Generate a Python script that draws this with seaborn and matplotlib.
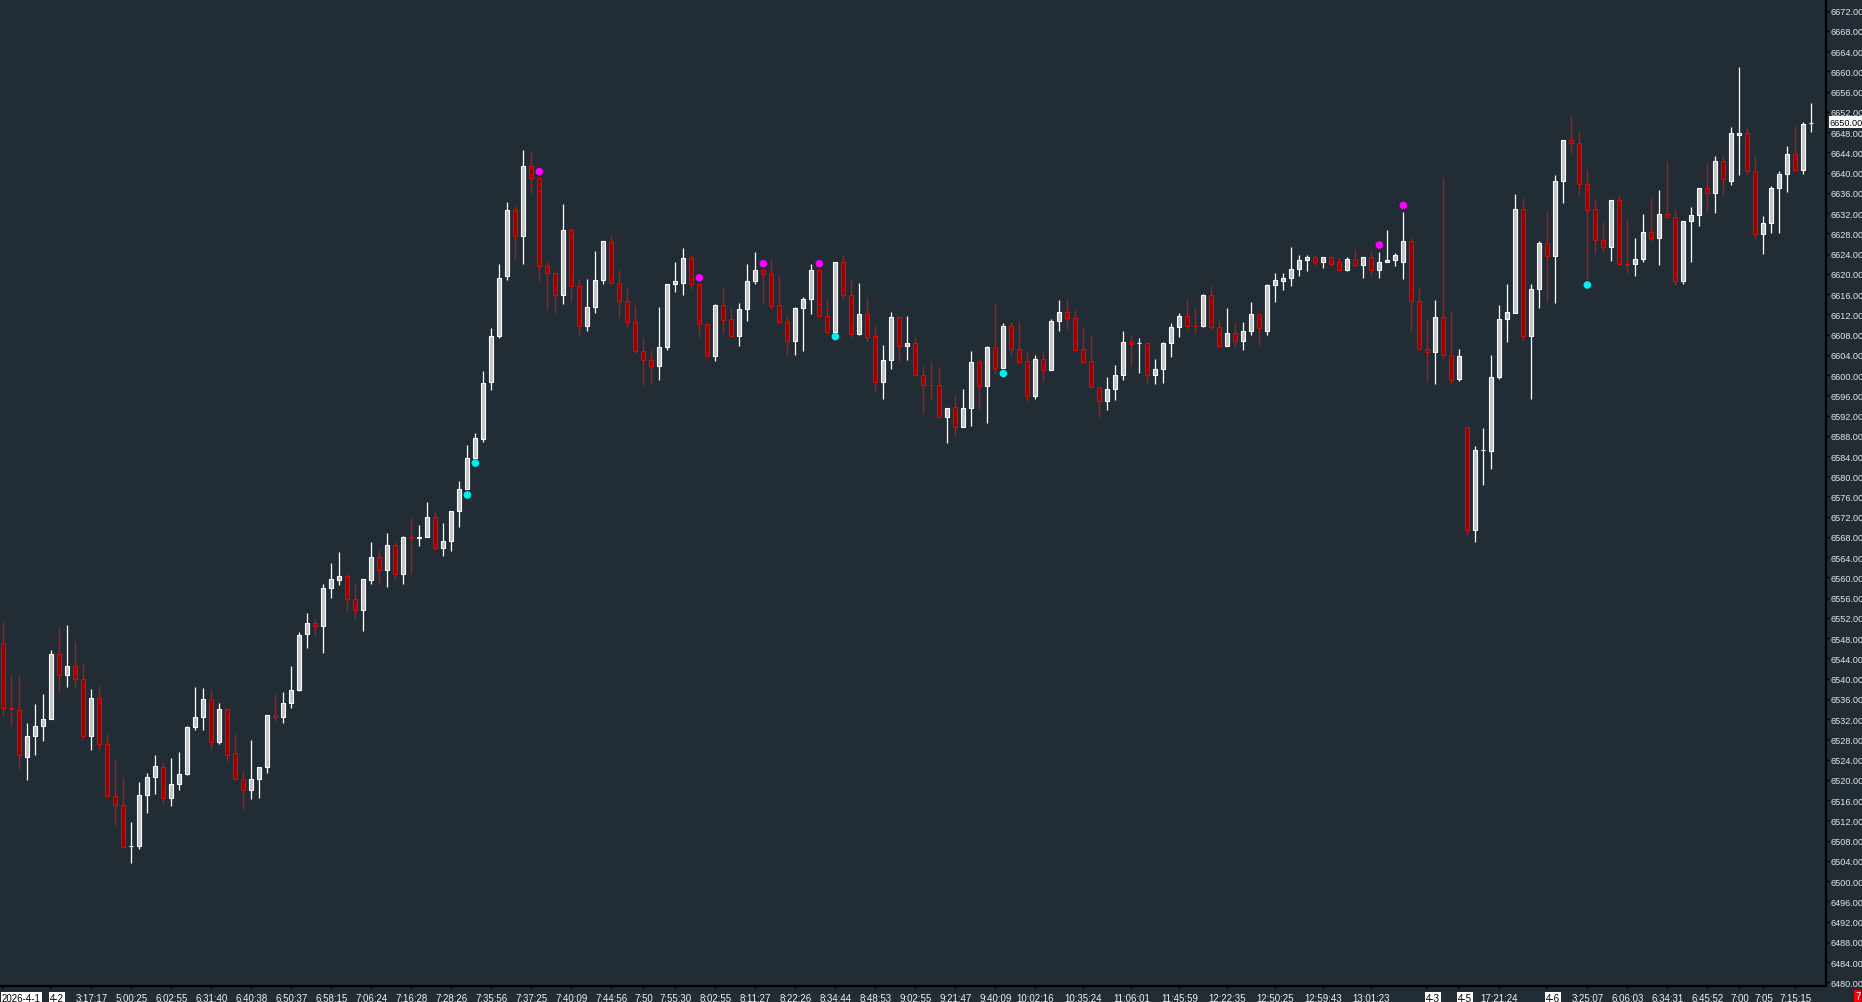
import numpy as np
import pandas as pd
import matplotlib
matplotlib.use("Agg")
import matplotlib.pyplot as plt
import matplotlib.transforms as mtransforms
import seaborn as sns

# OHLC per bar
opens = [6547.1, 6534.3, 6533.9, 6524.6, 6528.6, 6530.7, 6532.1, 6544.8, 6540.8, 6542.6,
         6540.0, 6528.7, 6536.1, 6527.0, 6516.9, 6515.1, 6506.9, 6506.9, 6517.1, 6520.6,
         6522.6, 6516.5, 6519.1, 6521.2, 6530.5, 6532.5, 6535.9, 6527.4, 6534.1, 6525.4,
         6520.2, 6518.1, 6520.2, 6522.6, 6532.9, 6532.5, 6535.2, 6537.8, 6548.8, 6551.1,
         6550.5, 6558.0, 6559.5, 6560.2, 6555.8, 6553.6, 6559.5, 6564.1, 6561.5, 6566.5,
         6560.7, 6567.9, 6567.7, 6567.9, 6571.9, 6565.9, 6567.3, 6573.1, 6577.4, 6583.6,
         6587.4, 6598.7, 6607.8, 6619.5, 6632.7, 6627.4, 6641.4, 6638.9, 6621.5, 6620.1,
         6615.9, 6628.6, 6617.5, 6609.6, 6613.4, 6618.7, 6626.2, 6618.1, 6614.7, 6610.4,
         6604.7, 6602.9, 6601.7, 6605.6, 6617.9, 6618.1, 6623.2, 6617.9, 6610.0, 6603.8,
         6613.8, 6611.0, 6607.8, 6613.0, 6618.5, 6620.7, 6619.9, 6613.8, 6610.4, 6606.8,
         6613.2, 6615.0, 6620.7, 6611.6, 6608.6, 6622.3, 6615.9, 6608.2, 6612.0, 6607.8,
         6598.7, 6602.9, 6611.4, 6605.7, 6606.3, 6600.1, 6598.1, 6598.0, 6591.8, 6593.6,
         6589.8, 6593.4, 6602.5, 6597.9, 6605.5, 6601.3, 6609.6, 6605.1, 6602.7, 6595.9,
         6603.1, 6600.9, 6610.6, 6612.4, 6611.2, 6605.1, 6602.7, 6597.6, 6594.9, 6597.3,
         6600.1, 6606.6, 6606.3, 6606.4, 6600.0, 6601.1, 6606.4, 6609.4, 6611.6, 6609.7,
         6609.7, 6615.9, 6609.4, 6605.8, 6608.4, 6606.8, 6608.8, 6612.0, 6608.8, 6617.7,
         6618.6, 6619.1, 6620.9, 6622.7, 6623.4, 6622.3, 6623.4, 6622.3, 6620.7, 6622.9,
         6621.7, 6623.3, 6620.7, 6622.3, 6622.7, 6622.4, 6626.4, 6614.7, 6605.1, 6604.6,
         6611.4, 6603.9, 6599.3, 6589.8, 6569.3, 6585.1, 6584.9, 6599.7, 6611.0, 6612.3,
         6632.9, 6607.8, 6617.1, 6626.0, 6623.6, 6638.3, 6646.4, 6645.8, 6637.7, 6632.9,
         6626.6, 6625.4, 6634.5, 6621.9, 6621.9, 6622.9, 6628.2, 6627.1, 6631.9, 6631.2,
         6618.5, 6630.4, 6631.7, 6636.9, 6635.9, 6642.2, 6638.4, 6647.4, 6647.8, 6640.4,
         6627.9, 6630.0, 6636.9, 6639.7, 6643.6, 6640.6, 6649.8]
highs = [6551.3, 6540.7, 6540.7, 6531.2, 6534.9, 6536.9, 6545.6, 6550.2, 6550.6, 6547.4,
         6543.0, 6537.9, 6538.7, 6529.2, 6524.1, 6520.3, 6511.6, 6519.5, 6521.3, 6524.9,
         6523.6, 6524.3, 6525.6, 6530.7, 6538.3, 6538.1, 6537.7, 6535.1, 6534.1, 6529.3,
         6521.7, 6527.8, 6522.6, 6532.9, 6536.9, 6537.3, 6542.5, 6549.3, 6552.9, 6551.8,
         6558.7, 6562.8, 6565.0, 6560.7, 6558.9, 6559.7, 6567.0, 6565.6, 6568.8, 6567.2,
         6568.1, 6571.9, 6570.3, 6574.9, 6573.1, 6570.7, 6573.1, 6579.1, 6586.2, 6588.5,
         6600.8, 6609.3, 6621.9, 6634.2, 6633.6, 6644.5, 6644.3, 6638.9, 6622.5, 6620.1,
         6633.8, 6629.0, 6619.0, 6618.9, 6624.5, 6626.4, 6627.7, 6620.7, 6617.2, 6613.8,
         6607.3, 6604.9, 6613.4, 6617.9, 6622.3, 6625.1, 6623.7, 6617.9, 6610.0, 6614.1,
         6617.2, 6613.2, 6614.2, 6621.9, 6624.4, 6620.7, 6622.9, 6619.6, 6611.6, 6613.4,
         6615.4, 6621.9, 6620.7, 6615.0, 6622.3, 6623.7, 6619.0, 6618.2, 6615.2, 6609.6,
         6605.9, 6612.4, 6611.4, 6611.7, 6607.6, 6602.0, 6602.5, 6601.3, 6593.4, 6596.0,
         6597.2, 6604.7, 6603.2, 6605.7, 6614.2, 6610.2, 6610.4, 6610.7, 6604.7, 6603.9,
         6604.7, 6611.1, 6614.8, 6615.1, 6613.0, 6609.3, 6607.9, 6597.6, 6599.7, 6601.9,
         6608.8, 6607.9, 6607.3, 6606.6, 6603.1, 6606.6, 6610.2, 6612.2, 6615.1, 6613.2,
         6616.1, 6617.5, 6611.1, 6613.2, 6610.3, 6610.4, 6614.4, 6612.0, 6617.9, 6620.1,
         6620.2, 6625.3, 6623.7, 6623.7, 6623.8, 6623.4, 6623.6, 6623.4, 6623.3, 6625.0,
         6623.4, 6624.6, 6624.4, 6628.7, 6624.2, 6632.2, 6627.1, 6617.2, 6611.1, 6614.8,
         6638.9, 6612.6, 6605.1, 6589.8, 6585.9, 6589.5, 6604.0, 6613.8, 6618.0, 6635.8,
         6635.0, 6618.0, 6626.4, 6632.4, 6639.5, 6646.4, 6651.2, 6648.2, 6640.7, 6634.5,
         6630.4, 6634.5, 6635.6, 6630.8, 6627.1, 6631.8, 6635.2, 6636.5, 6642.3, 6632.7,
         6630.4, 6633.2, 6636.9, 6642.0, 6643.2, 6643.2, 6649.1, 6660.8, 6649.1, 6643.2,
         6631.4, 6637.3, 6640.3, 6645.2, 6649.5, 6650.1, 6653.8]
lows = [6532.6, 6530.9, 6522.0, 6520.0, 6524.9, 6527.7, 6532.1, 6537.4, 6538.4, 6538.2,
        6528.1, 6525.9, 6525.7, 6516.7, 6511.1, 6506.8, 6503.6, 6506.3, 6513.5, 6517.2,
        6515.2, 6514.8, 6518.1, 6521.0, 6529.9, 6529.9, 6526.1, 6527.1, 6523.7, 6520.1,
        6514.3, 6516.2, 6516.4, 6521.4, 6531.4, 6531.3, 6534.2, 6537.5, 6546.0, 6548.5,
        6545.0, 6555.9, 6558.5, 6553.4, 6551.8, 6549.5, 6558.7, 6558.9, 6558.2, 6559.7,
        6558.7, 6560.7, 6566.3, 6567.9, 6565.5, 6564.3, 6565.3, 6570.0, 6577.4, 6583.6,
        6586.7, 6597.1, 6607.4, 6618.8, 6623.0, 6622.0, 6636.0, 6618.3, 6613.0, 6612.0,
        6614.1, 6614.4, 6608.0, 6608.7, 6612.3, 6617.9, 6618.1, 6611.3, 6609.5, 6604.1,
        6598.1, 6598.5, 6599.1, 6605.0, 6616.5, 6615.9, 6616.9, 6607.6, 6603.8, 6602.8,
        6608.4, 6607.6, 6605.8, 6610.7, 6617.9, 6614.3, 6613.0, 6610.4, 6604.0, 6604.0,
        6604.8, 6612.0, 6611.6, 6608.1, 6608.6, 6615.0, 6607.3, 6608.0, 6606.6, 6596.7,
        6595.3, 6601.2, 6602.5, 6603.0, 6600.1, 6592.5, 6595.3, 6591.8, 6586.6, 6588.0,
        6589.8, 6590.0, 6593.3, 6590.6, 6600.2, 6601.3, 6603.7, 6602.6, 6594.6, 6595.3,
        6598.9, 6600.9, 6608.7, 6609.0, 6604.8, 6602.6, 6597.6, 6591.6, 6593.0, 6595.0,
        6599.1, 6601.8, 6600.5, 6598.5, 6598.3, 6598.5, 6603.6, 6607.6, 6609.0, 6608.4,
        6609.5, 6609.0, 6605.8, 6605.8, 6605.6, 6605.0, 6608.0, 6605.8, 6608.0, 6614.5,
        6616.9, 6617.6, 6619.6, 6620.6, 6621.6, 6621.1, 6621.6, 6620.6, 6620.6, 6621.5,
        6619.2, 6619.6, 6619.2, 6622.3, 6621.6, 6619.0, 6608.7, 6605.1, 6598.9, 6598.3,
        6603.3, 6598.5, 6598.9, 6568.4, 6567.0, 6578.3, 6581.5, 6599.3, 6606.6, 6612.3,
        6607.0, 6595.3, 6613.3, 6614.5, 6614.3, 6634.0, 6643.7, 6635.6, 6619.0, 6624.0,
        6624.4, 6622.5, 6621.9, 6620.0, 6619.6, 6622.4, 6626.5, 6621.8, 6631.2, 6617.8,
        6618.0, 6622.4, 6629.5, 6632.5, 6632.1, 6635.6, 6637.6, 6639.6, 6639.8, 6627.1,
        6624.0, 6628.1, 6628.1, 6636.2, 6640.6, 6639.8, 6648.1]
closes = [6534.3, 6534.0, 6524.9, 6528.6, 6530.7, 6532.1, 6544.8, 6540.8, 6542.6, 6540.0,
          6528.7, 6536.1, 6527.0, 6516.8, 6515.1, 6506.8, 6507.0, 6517.1, 6520.6, 6522.8,
          6516.5, 6519.1, 6521.2, 6530.5, 6532.5, 6535.9, 6527.4, 6534.1, 6525.0, 6520.2,
          6518.1, 6520.2, 6522.6, 6532.9, 6532.5, 6535.2, 6537.8, 6548.6, 6551.1, 6550.5,
          6558.0, 6559.7, 6560.2, 6555.8, 6553.6, 6559.7, 6564.1, 6561.5, 6566.5, 6560.7,
          6567.9, 6567.7, 6567.9, 6571.9, 6565.9, 6567.3, 6573.1, 6577.4, 6583.7, 6587.5,
          6598.4, 6607.8, 6619.1, 6632.7, 6627.4, 6641.4, 6638.9, 6621.5, 6620.1, 6615.9,
          6628.6, 6617.5, 6609.6, 6613.4, 6618.7, 6626.4, 6618.1, 6614.7, 6610.4, 6604.7,
          6602.9, 6601.7, 6605.6, 6617.9, 6618.5, 6623.2, 6617.9, 6610.0, 6603.8, 6613.8,
          6610.9, 6607.8, 6613.0, 6618.5, 6620.7, 6619.9, 6613.7, 6610.4, 6606.8, 6613.2,
          6615.0, 6620.7, 6611.6, 6608.6, 6622.3, 6615.9, 6608.2, 6612.0, 6607.6, 6598.7,
          6602.9, 6611.4, 6605.7, 6606.3, 6600.1, 6598.1, 6598.0, 6591.8, 6593.4, 6589.8,
          6593.4, 6602.5, 6597.9, 6605.5, 6601.3, 6609.6, 6605.1, 6602.6, 6595.9, 6603.1,
          6600.9, 6610.6, 6612.4, 6611.2, 6605.0, 6602.6, 6597.6, 6594.9, 6597.3, 6600.1,
          6606.6, 6606.2, 6606.4, 6600.0, 6601.1, 6606.4, 6609.4, 6611.6, 6609.7, 6609.6,
          6615.9, 6609.4, 6605.8, 6608.4, 6606.8, 6608.8, 6612.0, 6609.2, 6617.7, 6618.8,
          6619.2, 6620.9, 6622.7, 6623.4, 6622.3, 6623.4, 6621.9, 6620.7, 6622.9, 6621.7,
          6623.3, 6620.7, 6622.3, 6622.7, 6623.8, 6626.4, 6614.7, 6605.1, 6604.6, 6611.4,
          6603.9, 6599.1, 6603.7, 6569.3, 6585.1, 6585.2, 6599.7, 6611.0, 6612.4, 6632.9,
          6607.8, 6617.1, 6626.0, 6623.5, 6638.3, 6646.4, 6645.8, 6637.7, 6632.7, 6626.6,
          6625.4, 6634.5, 6621.9, 6621.8, 6622.9, 6628.2, 6627.1, 6631.9, 6631.2, 6618.5,
          6630.4, 6631.7, 6636.9, 6635.9, 6642.2, 6638.7, 6647.8, 6647.8, 6640.4, 6627.9,
          6630.0, 6636.9, 6639.7, 6643.6, 6640.6, 6649.7, 6649.9]

# signal dots
sell_idx = [67, 87, 95, 102, 172, 175]
sell_px = [6640.2, 6619.2, 6622.0, 6622.0, 6625.7, 6633.5]
buy_idx = [58, 59, 104, 125, 198]
buy_px = [6576.3, 6582.6, 6607.6, 6600.3, 6617.8]

# time axis labels (bar index, text)
time_pos = [11, 16, 21, 26, 31, 36, 41, 46, 51, 56, 61, 66, 71, 76, 80, 84, 89, 94, 99,
            104, 109, 114, 119, 124, 129, 135, 141, 147, 153, 159, 165, 171, 187, 198,
            203, 208, 213, 217, 220, 224]
time_labels = ["3:17:17", "5:00:25", "6:02:55", "6:31:40", "6:40:38", "6:50:37", "6:58:15",
               "7:06:24", "7:16:28", "7:28:26", "7:35:56", "7:37:25", "7:40:09", "7:44:56",
               "7:50", "7:55:30", "8:02:55", "8:11:27", "8:22:26", "8:34:44", "8:48:53",
               "9:02:55", "9:21:47", "9:40:09", "10:02:16", "10:35:24", "11:06:01",
               "11:45:59", "12:22:35", "12:50:25", "12:59:43", "13:01:23", "17:21:24",
               "3:25:07", "6:06:03", "6:34:31", "6:45:52", "7:00", "7:05", "7:15:15"]
date_pos = [0, 6, 178, 182, 193]
date_labels = ["2026-4-1", "4-2", "4-3", "4-5", "4-6"]
last_price = 6650.0

bg = "#222c34"
sns.set_style("dark", {"axes.facecolor": bg, "figure.facecolor": bg})
plt.rcParams["font.family"] = ["Liberation Sans", "DejaVu Sans"]

df = pd.DataFrame({"open": opens, "high": highs, "low": lows, "close": closes})
df["x"] = np.arange(len(df))
up = df["close"] >= df["open"]

W, H = 1862, 1003
fig = plt.figure(figsize=(W / 100, H / 100), dpi=100)
ax = fig.add_axes([0, 16 / H, 1826 / W, 987 / H])
ax.set_facecolor(bg)

# wicks
ax.vlines(df.x[up], df.low[up], df.high[up], color="#ffffff", lw=0.9, zorder=2)
ax.vlines(df.x[~up], df.low[~up], df.high[~up], color="#ee0000", lw=0.9, zorder=2)

# bodies
body_lo = np.minimum(df.open, df.close)
body_h = (df.close - df.open).abs()
ax.bar(df.x[up], body_h[up], bottom=body_lo[up], width=0.5,
       color="#c4c4c4", edgecolor="#ffffff", linewidth=0.8, zorder=3)
ax.bar(df.x[~up], body_h[~up], bottom=body_lo[~up], width=0.5,
       color="#990000", edgecolor="#ee0000", linewidth=0.8, zorder=3)

sig = pd.DataFrame({"x": sell_idx + buy_idx, "y": sell_px + buy_px,
                    "kind": ["sell"] * len(sell_idx) + ["buy"] * len(buy_idx)})
sns.scatterplot(data=sig, x="x", y="y", hue="kind",
                palette={"sell": "#ff00ff", "buy": "#00f0f0"},
                s=30, linewidth=0, legend=False, ax=ax, zorder=4)

ax.set_xlim(-0.42, 227.83)
ax.set_ylim(6479.27, 6674.31)
ax.set_xlabel("")
ax.set_ylabel("")

# right price scale
ax.yaxis.tick_right()
yt = np.arange(6480, 6673, 4)
ax.set_yticks(yt)
ax.set_yticklabels([f"{v:.2f}" for v in yt])
ax.tick_params(axis="y", colors="#000000", labelcolor="#e2e6ea", labelsize=6.6,
               length=2.5, width=1, pad=1, right=True, left=False)

# time scale
ax.set_xticks([p - 0.2 for p in date_pos] + time_pos)
ax.set_xticklabels(date_labels + time_labels)
ax.tick_params(axis="x", colors="#000000", labelcolor="#f0f0f0", labelsize=7,
               length=2.5, width=1, pad=2.5, bottom=True)
for lab in ax.get_xticklabels()[:len(date_pos)]:
    lab.set_ha("left")
    lab.set_color("#000000")
    lab.set_bbox(dict(facecolor="#ffffff", edgecolor="none", pad=0.6))

for side in ["left", "top"]:
    ax.spines[side].set_visible(False)
for side in ["right", "bottom"]:
    ax.spines[side].set_visible(True)
    ax.spines[side].set_color("#000000")
    ax.spines[side].set_linewidth(1.6)
ax.grid(False)

# last price tag
trans = mtransforms.blended_transform_factory(ax.transAxes, ax.transData)
ax.text(1.002, last_price, f"{last_price:.2f}", transform=trans, ha="left", va="center",
        fontsize=6.6, color="#000000", clip_on=False, zorder=10,
        bbox=dict(facecolor="#ffffff", edgecolor="none", pad=0.8))

# countdown tag in the corner
fig.text(1855 / W, 1 / H, "7", fontsize=7, color="#ffffff", ha="left", va="bottom",
         bbox=dict(facecolor="#ff0000", edgecolor="none", pad=0.8))

fig.savefig("out.png", dpi=100, facecolor=bg)
